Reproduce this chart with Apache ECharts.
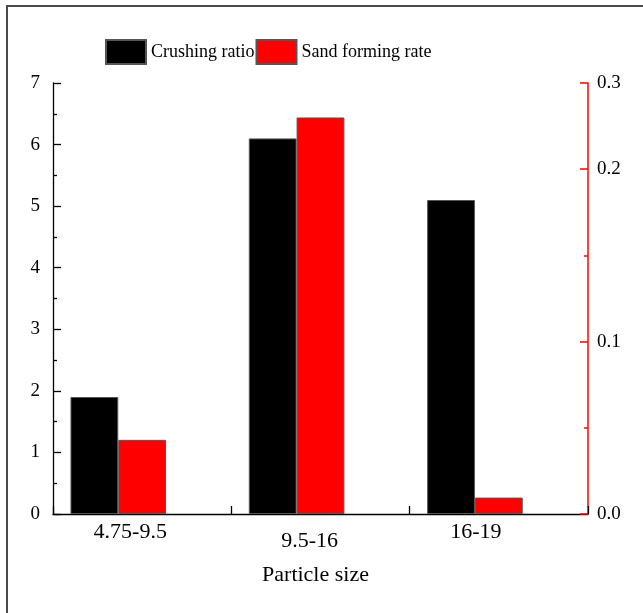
<!DOCTYPE html>
<html>
<head>
<meta charset="utf-8">
<script src="https://cdn.jsdelivr.net/npm/echarts@6/dist/echarts.min.js"></script>
<style>
  html, body { margin: 0; padding: 0; background: #fff; }
  #chart { width: 643px; height: 613px; }
</style>
</head>
<body>
<div id="chart"></div>
<script>
// Particle size groups and measured values
const categories = ['4.75-9.5', '9.5-16', '16-19'];
const crushingRatio = [1.9, 6.1, 5.1];
const sandFormingRate = [0.043, 0.23, 0.0095];

// Right-axis tick positions (top end 0.25 is printed with one decimal)
const rightMajorTicks = [0, 0.1, 0.2, 0.25];
const rightMinorTicks = [0.05, 0.15];

const FONT = "'Liberation Serif', 'Times New Roman', serif";
const labelStyles = ['g0', 'g1', 'g2'];

const chart = echarts.init(document.getElementById('chart'), null, { renderer: 'canvas' });

chart.setOption({
  backgroundColor: '#fff',
  animation: false,
  textStyle: { fontFamily: FONT, color: '#000' },
  graphic: [{
    type: 'rect',
    shape: { x: 7, y: 6, width: 700, height: 700 },
    style: { fill: 'none', stroke: '#4a4a4a', lineWidth: 2 },
    silent: true
  }],
  legend: {
    left: 105, top: 39, padding: 0,
    icon: 'rect',
    itemWidth: 40, itemHeight: 24, itemGap: 1,
    textStyle: { fontFamily: FONT, fontSize: 18, color: '#000' },
    data: ['Crushing ratio', 'Sand forming rate']
  },
  grid: [
    // bar layout grid
    { left: 29.1, right: 78.9, top: 83, bottom: 99 },
    // frame grid carrying the visible bottom axis
    { left: 53, right: 55, top: 83, bottom: 99 }
  ],
  xAxis: [
    {
      type: 'category', gridIndex: 0, data: categories,
      axisLine: { show: false }, axisTick: { show: false },
      axisLabel: {
        margin: 7,
        formatter: function (v, i) { return '{' + labelStyles[i] + '|' + v + '}'; },
        rich: {
          g0: { fontFamily: FONT, fontSize: 22, color: '#000', padding: [0, 0, 0, 24] },
          g1: { fontFamily: FONT, fontSize: 22, color: '#000', padding: [9, 0, 0, 26] },
          g2: { fontFamily: FONT, fontSize: 22, color: '#000', padding: [0, 0, 0, 2] }
        }
      }
    },
    {
      type: 'value', gridIndex: 1, min: 0, max: 6, interval: 1,
      axisLine: { show: true, lineStyle: { color: '#000', width: 1.3 } },
      axisTick: { show: true, inside: true, length: 8, lineStyle: { color: '#000', width: 1.3 } },
      axisLabel: { show: false },
      splitLine: { show: false },
      name: 'Particle size', nameLocation: 'middle', nameGap: 50,
      nameTextStyle: { fontFamily: FONT, fontSize: 22, color: '#000', padding: [0, 10, 0, 0] }
    }
  ],
  yAxis: [
    {
      type: 'value', gridIndex: 0, position: 'left', offset: -23.9,
      min: 0, max: 7, interval: 1,
      axisLine: { show: true, lineStyle: { color: '#000', width: 1.3 } },
      axisTick: { show: true, inside: true, length: 8, lineStyle: { color: '#000', width: 1.3 } },
      minorTick: { show: true, splitNumber: 2, length: 4, lineStyle: { color: '#000', width: 1.3 } },
      axisLabel: { margin: 13, fontFamily: FONT, fontSize: 19, color: '#000' },
      splitLine: { show: false }
    },
    {
      type: 'value', gridIndex: 0, position: 'right', offset: 23.9,
      min: 0, max: 0.25,
      axisLine: { show: true, lineStyle: { color: '#ff0000', width: 1.5 } },
      axisTick: {
        show: true, inside: true, length: 8, customValues: rightMajorTicks,
        lineStyle: { color: '#ff0000', width: 1.5 }
      },
      axisLabel: {
        margin: 9, fontFamily: FONT, fontSize: 19, color: '#000',
        customValues: rightMajorTicks,
        formatter: function (v) { return v.toFixed(1); }
      },
      splitLine: { show: false }
    },
    {
      // short minor ticks on the right axis
      type: 'value', gridIndex: 0, position: 'right', offset: 23.9,
      min: 0, max: 0.25,
      axisLine: { show: false },
      axisTick: {
        show: true, inside: true, length: 4, customValues: rightMinorTicks,
        lineStyle: { color: '#ff0000', width: 1.5 }
      },
      axisLabel: { show: false },
      splitLine: { show: false }
    },
    {
      type: 'value', gridIndex: 1, show: false, min: 0, max: 1
    }
  ],
  series: [
    {
      name: 'Crushing ratio', type: 'bar', xAxisIndex: 0, yAxisIndex: 0,
      data: crushingRatio,
      barGap: '0%', barCategoryGap: '46.4%',
      itemStyle: { color: '#000', borderColor: '#555', borderWidth: 1 }
    },
    {
      name: 'Sand forming rate', type: 'bar', xAxisIndex: 0, yAxisIndex: 1,
      data: sandFormingRate,
      barGap: '0%', barCategoryGap: '46.4%',
      itemStyle: { color: '#ff0000', borderColor: '#555', borderWidth: 1 }
    }
  ]
});
</script>
</body>
</html>
